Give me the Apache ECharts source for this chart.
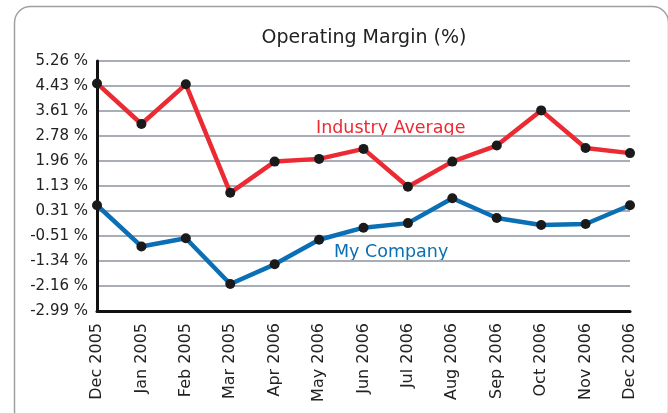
<!DOCTYPE html>
<html>
<head>
<meta charset="utf-8">
<script src="https://cdn.jsdelivr.net/npm/echarts@6/dist/echarts.min.js"></script>
<style>
  html, body { margin:0; padding:0; background:#fff; }
  #chart { width:668px; height:413px; }
</style>
</head>
<body>
<div id="chart"></div>
<script type="text/javascript">
  // data
  var months = ['Dec 2005','Jan 2005','Feb 2005','Mar 2005','Apr 2006','May 2006','Jun 2006',
                'Jul 2006','Aug 2006','Sep 2006','Oct 2006','Nov 2006','Dec 2006'];
  var industryAvg = [4.52, 3.18, 4.49, 0.91, 1.94, 2.03, 2.36, 1.11, 1.94, 2.47, 3.63, 2.39, 2.22];
  var myCompany   = [0.50, -0.86, -0.59, -2.10, -1.45, -0.64, -0.24, -0.09, 0.73, 0.08, -0.15, -0.12, 0.50];
  var yTicks = ['-2.99','-2.16','-1.34','-0.51','0.31','1.13','1.96','2.78','3.61','4.43','5.26'];
  var yMin = -2.99, yMax = 5.26, yStep = 0.825;

  var font = 'DejaVu Sans';
  var myChart = echarts.init(document.getElementById('chart'));
  myChart.setOption({
    animation: false,
    title: {
      text: 'Operating Margin (%)',
      left: 359, top: 24, textAlign: 'center',
      textStyle: { fontFamily: font, fontSize: 19, fontWeight: 'normal', color: '#222' }
    },
    grid: { left: 97, right: 38, top: 61, bottom: 102 },
    xAxis: {
      type: 'category',
      data: months,
      boundaryGap: false,
      axisLine: { onZero: false, lineStyle: { color: '#111', width: 3 } },
      axisTick: { show: false },
      axisLabel: { rotate: 90, fontFamily: font, fontSize: 16, color: '#222', margin: 12, interval: 0 }
    },
    yAxis: {
      type: 'value',
      min: yMin, max: yMax, interval: yStep,
      axisLine: { show: true, lineStyle: { color: '#111', width: 3 } },
      axisTick: { show: false },
      splitLine: { lineStyle: { color: '#a9adb5', width: 2 } },
      axisLabel: {
        fontFamily: font, fontSize: 15, color: '#222', margin: 9,
        formatter: function (v) {
          var i = Math.round((v - yMin) / yStep);
          return (yTicks[i] || v.toFixed(2)) + ' %';
        }
      }
    },
    series: [
      {
        name: 'Industry Average', type: 'line', data: industryAvg,
        symbol: 'circle', symbolSize: 10,
        lineStyle: { color: '#ec2a33', width: 4.5 },
        itemStyle: { color: '#1a1a1a' }
      },
      {
        name: 'My Company', type: 'line', data: myCompany,
        symbol: 'circle', symbolSize: 10,
        lineStyle: { color: '#0a6fb5', width: 4.5 },
        itemStyle: { color: '#1a1a1a' }
      }
    ],
    graphic: [
      { type: 'rect', left: 12, top: 4, z: -1,
        shape: { width: 654, height: 420, r: 16 },
        style: { fill: 'none', stroke: '#a0a0a0', lineWidth: 1.5 } },
      { type: 'text', left: 316, top: 119,
        style: { text: 'Industry Average', fill: '#ec2a33', font: '17.5px "DejaVu Sans"' } },
      { type: 'text', left: 334, top: 243,
        style: { text: 'My Company', fill: '#0a6fb5', font: '17.5px "DejaVu Sans"' } }
    ]
  });
</script>
</body>
</html>
